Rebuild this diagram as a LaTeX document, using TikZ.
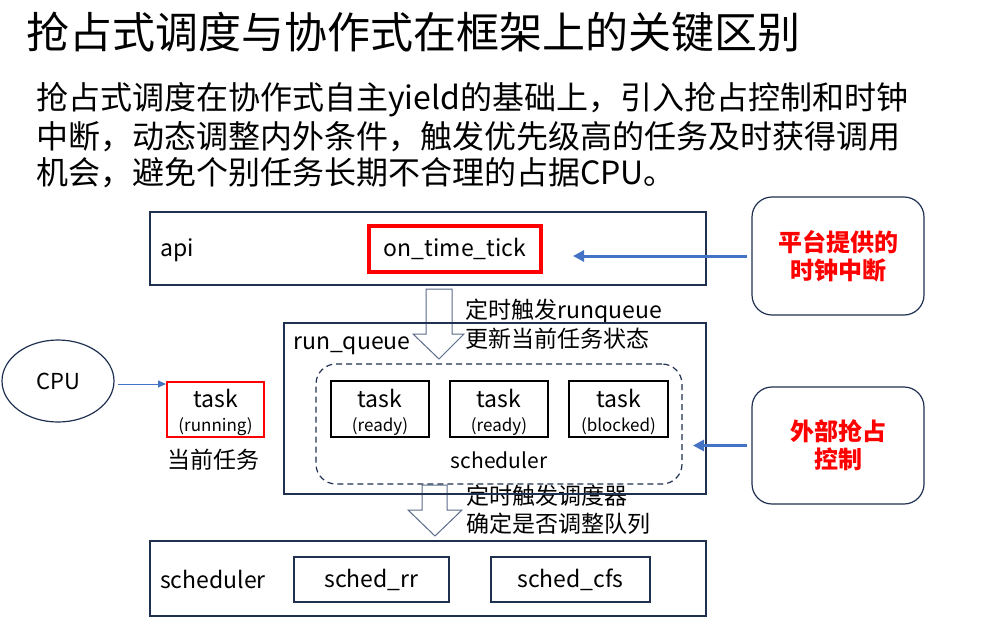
\documentclass[tikz,border=0pt]{standalone}
\usepackage{fontspec}
\setmainfont{Noto Sans CJK SC}
\usetikzlibrary{arrows.meta,shapes.geometric}
\definecolor{navyc}{HTML}{1F3050}
\definecolor{linkblue}{HTML}{4472C4}
\definecolor{hotred}{HTML}{FF0000}
\definecolor{blockline}{HTML}{5B6B8A}
\newcommand{\fs}[1]{\fontsize{#1}{#1}\selectfont}
\newcommand{\tasktext}[1]{\fs{23}\rule{0pt}{25pt}task\\[9pt]\fs{17}(#1)}
\begin{document}
\begin{tikzpicture}[x=1pt,y=-1pt,
  frame/.style={draw=navyc, line width=2.4pt, inner sep=0pt, minimum width=#1},
  thinframe/.style={draw=navyc, line width=1.3pt, inner sep=0pt},
  roundbox/.style={draw=navyc, line width=1.2pt, rounded corners=20pt, inner sep=0pt,
    minimum width=172pt, text=hotred, font=\fs{24}\bfseries, align=center},
  taskbox/.style={draw=black, line width=2pt, inner sep=0pt, minimum width=98pt,
    minimum height=56pt, align=center},
  label/.style={inner sep=0pt, anchor=west},
  note/.style={inner sep=0pt, anchor=west, font=\fs{23}},
  linkarrow/.style={draw=linkblue, line width=3pt, -{Triangle[length=11pt,width=11pt]}},
  thinarrow/.style={draw=linkblue, line width=0.9pt, -{Triangle[length=8pt,width=7pt]}},
  blockarrow/.style={draw=blockline, line width=1pt, fill=white, line join=miter}]
\useasboundingbox (0,0) rectangle (998,635);

% headline and summary
\node[label, font=\fs{43}] (title) at (26,32) {抢占式调度与协作式在框架上的关键区别};
\node[label, font=\fs{32}] (sum1) at (36,100) {抢占式调度在协作式自主yield的基础上，引入抢占控制和时钟};
\node[label, font=\fs{32}] (sum2) at (36,137) {中断，动态调整内外条件，触发优先级高的任务及时获得调用};
\node[label, font=\fs{32}] (sum3) at (36,173) {机会，避免个别任务长期不合理的占据CPU。};

% hollow arrows between layers (drawn first so frames pass over them)
\draw[blockarrow] (426,289) -- (452,289) -- (452,334) -- (464,334) -- (439,359)
  -- (413,334) -- (426,334) -- cycle;
\draw[blockarrow] (422,485) -- (447,485) -- (447,510) -- (462,510) -- (435,536)
  -- (408,510) -- (422,510) -- cycle;
\node[note] (n1) at (465,311) {定时触发runqueue};
\node[note] (n2) at (465,339) {更新当前任务状态};
\node[note] (n3) at (466,496) {定时触发调度器};
\node[note] (n4) at (466,524) {确定是否调整队列};

% api layer
\node[frame=556pt, minimum height=73pt] (api) at (428,248.5) {};
\node[label, font=\fs{23}] (apilabel) at (160,250) {api};
\node[draw=hotred, line width=3.5pt, minimum width=172pt, minimum height=46pt,
  inner sep=0pt, font=\fs{23}] (tick) at (455,249) {on\_time\_tick};

% run queue layer
\node[frame=422pt, minimum height=171pt] (rq) at (495,408.5) {};
\node[label, font=\fs{23}] (rqlabel) at (293,346) {run\_queue};
\node[draw=navyc, line width=1.2pt, dashed, dash pattern=on 6pt off 4pt,
  rounded corners=20pt, minimum width=366pt, minimum height=120pt, inner sep=0pt]
  (pool) at (499,424) {};
\node[taskbox] (t1) at (380,409) {\tasktext{ready}};
\node[taskbox] (t2) at (499,409) {\tasktext{ready}};
\node[taskbox, minimum width=99pt] (t3) at (618.5,409) {\tasktext{blocked}};
\node[inner sep=0pt, font=\fs{21}] (poollabel) at (499,460) {scheduler};

% current task on the CPU
\node[draw=navyc, line width=1.2pt, ellipse, minimum width=112pt, minimum height=82pt,
  inner sep=0pt, font=\fs{22}] (cpu) at (58,381) {CPU};
\node[draw=hotred, line width=2pt, minimum width=97pt, minimum height=55pt, inner sep=0pt,
  align=center] (run) at (215.5,409.5) {\tasktext{running}};
\node[inner sep=0pt, font=\fs{23}] (runlabel) at (213,460) {当前任务};
\draw[thinarrow] (cpu.east) ++(3,3) -- (run.west |- 0,384);

% scheduler layer
\node[draw=navyc, line width=1.5pt, minimum width=556pt, minimum height=75pt, inner sep=0pt]
  (sched) at (428,578.5) {};
\node[label, font=\fs{23}] (schedlabel) at (160,579) {scheduler};
\node[thinframe, minimum width=155pt, minimum height=45pt, font=\fs{23}] (rr) at (371.5,579.5) {sched\_rr};
\node[thinframe, minimum width=159pt, minimum height=45pt, font=\fs{23}] (cfs) at (570.5,579.5) {sched\_cfs};

% external sources
\node[roundbox, minimum height=118pt] (clock) at (838,256) {平台提供的\\[4pt]时钟中断};
\node[roundbox, minimum height=117pt] (preempt) at (838,445.5) {外部抢占\\[4pt]控制};
\coordinate (tickin) at (573,256);
\coordinate (rqin) at (693,445.5);
\draw[linkarrow] (clock.west) ++(-4,0) -- (tickin);
\draw[linkarrow] (preempt.west) ++(-4,0) -- (rqin);
\end{tikzpicture}
\end{document}
